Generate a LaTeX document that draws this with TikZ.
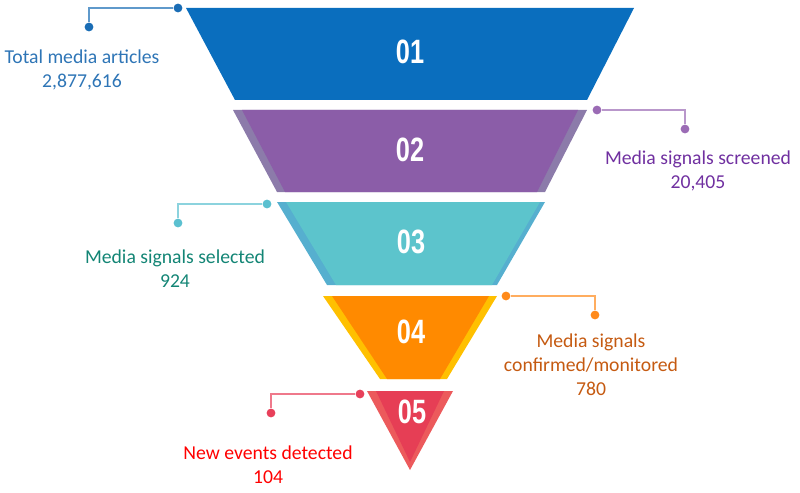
\documentclass[tikz,border=0pt]{standalone}
\usepackage{fontspec}
\setmainfont{Carlito}
\newfontfamily\numfont{Liberation Sans}[FakeStretch=0.75]
\usetikzlibrary{positioning}

\definecolor{segA}{RGB}{10,110,190}
\definecolor{segB}{RGB}{139,93,168}
\definecolor{bandB}{RGB}{140,123,170}
\definecolor{segC}{RGB}{92,196,204}
\definecolor{bandC}{RGB}{86,175,207}
\definecolor{segD}{RGB}{255,138,0}
\definecolor{bandD}{RGB}{255,192,0}
\definecolor{segE}{RGB}{230,62,85}
\definecolor{bandE}{RGB}{236,90,92}
\definecolor{txtA}{RGB}{46,117,182}
\definecolor{txtB}{RGB}{112,48,160}
\definecolor{txtC}{RGB}{19,133,117}
\definecolor{txtD}{RGB}{197,90,17}
\definecolor{txtE}{RGB}{255,0,0}
\definecolor{dotA}{RGB}{26,109,181}
\definecolor{dotB}{RGB}{155,107,181}
\definecolor{dotC}{RGB}{91,192,208}
\definecolor{dotD}{RGB}{255,138,26}
\definecolor{dotE}{RGB}{232,64,90}

\begin{document}
\begin{tikzpicture}[
    x=0.025cm, y=-0.025cm,
    num/.style={font=\numfont\bfseries\fontsize{24}{24}\selectfont, text=white},
    dot/.style={circle, fill=#1, inner sep=0pt, minimum size=2.2mm},
    lead/.style={draw=#1!70, line width=0.8pt},
    lbl/.style={font=\fontsize{14}{17}\selectfont, align=center, text=#1}
]
    \useasboundingbox (0,0) rectangle (800,492);

    % funnel
    \fill[segA] (186,8) -- (634,8) -- (587,100) -- (235,100) -- cycle;
    \fill[bandB] (233,110) -- (587,110) -- (545,192) -- (277,192) -- cycle;
    \fill[segB] (242,110) -- (578,110) -- (537,192) -- (285,192) -- cycle;
    \fill[bandC] (277,202) -- (545,202) -- (497,285) -- (327,285) -- cycle;
    \fill[segC] (286,202) -- (540,202) -- (492,285) -- (336,285) -- cycle;
    \fill[bandD] (323,296) -- (497,296) -- (447,379) -- (380,379) -- cycle;
    \fill[segD] (332,296) -- (489,296) -- (440,379) -- (387,379) -- cycle;
    \fill[bandE] (367,391) -- (453,391) -- (410,470) -- cycle;
    \fill[segE] (376,391) -- (444,391) -- (410,462) -- cycle;

    \node[num] (n1) at (410,52) {01};
    \node[num] (n2) at (410,150) {02};
    \node[num] (n3) at (411,242) {03};
    \node[num] (n4) at (411,332) {04};
    \node[num] (n5) at (412,412) {05};

    % callouts
    \node[dot=dotA] (a1) at (178,8) {};
    \node[dot=dotA] (b1) at (89,27) {};
    \draw[lead=dotA] (a1) -| (b1);
    \node[lbl=txtA] (t1) at (82,70) {Total media articles\\2,877,616};

    \node[dot=dotB] (a2) at (597,110) {};
    \node[dot=dotB] (b2) at (685,129) {};
    \draw[lead=dotB] (a2) -| (b2);
    \node[lbl=txtB] (t2) at (698,171) {Media signals screened\\20,405};

    \node[dot=dotC] (a3) at (267,204) {};
    \node[dot=dotC] (b3) at (178,223) {};
    \draw[lead=dotC] (a3) -| (b3);
    \node[lbl=txtC] (t3) at (175,269) {Media signals selected\\924};

    \node[dot=dotD] (a4) at (506,296) {};
    \node[dot=dotD] (b4) at (595,315) {};
    \draw[lead=dotD] (a4) -| (b4);
    \node[lbl=txtD] (t4) at (591,365) {Media signals\\confirmed/monitored\\780};

    \node[dot=dotE] (a5) at (360,394) {};
    \node[dot=dotE] (b5) at (271,413) {};
    \draw[lead=dotE] (a5) -| (b5);
    \node[lbl=txtE] (t5) at (268,465) {New events detected\\104};
\end{tikzpicture}
\end{document}
